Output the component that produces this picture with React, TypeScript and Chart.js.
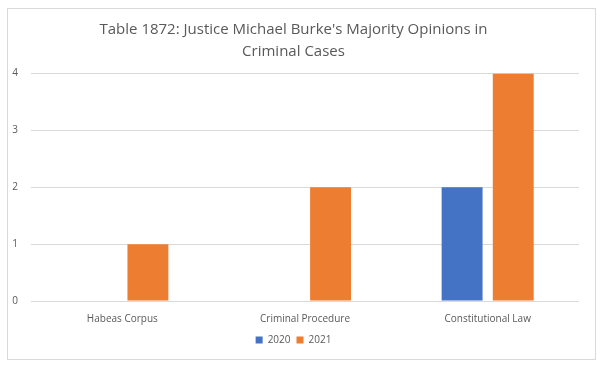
import React, { useEffect, useRef } from "react";
import { Chart, registerables } from "chart.js";

Chart.register(...registerables);

const categories = ["Habeas Corpus", "Criminal Procedure", "Constitutional Law"];
const series2020 = [0, 0, 2];
const series2021 = [1, 2, 4];
const titleLines = ["Table 1872: Justice Michael Burke's Majority Opinions in", "Criminal Cases"];

export default function App() {
  const ref = useRef<HTMLCanvasElement>(null);
  useEffect(() => {
    if (!ref.current) return;
    const chart = new Chart(ref.current, {
      type: "bar",
      data: {
        labels: categories,
        datasets: [
          { label: "2020", data: series2020, backgroundColor: "#4472C4", categoryPercentage: 0.56, barPercentage: 0.8 },
          { label: "2021", data: series2021, backgroundColor: "#ED7D31", categoryPercentage: 0.56, barPercentage: 0.8 },
        ],
      },
      options: {
        animation: false,
        responsive: false,
        layout: { padding: { left: 0, right: 16, top: 4, bottom: 4 } },
        plugins: {
          title: {
            display: true,
            text: titleLines,
            color: "#595959",
            font: { family: "Open Sans", size: 15, weight: "normal", lineHeight: 1.45 },
            padding: { top: 6, bottom: 11 },
          },
          legend: {
            position: "bottom",
            labels: {
              boxWidth: 7,
              boxHeight: 7,
              color: "#595959",
              font: { family: "Open Sans", size: 10 },
              padding: 6,
            },
          },
          tooltip: { enabled: false },
        },
        scales: {
          x: {
            grid: { display: false },
            border: { display: false },
            ticks: { color: "#595959", font: { family: "Open Sans", size: 10 }, padding: 4 },
          },
          y: {
            min: 0,
            max: 4,
            afterFit: (s: any) => {
              s.width = 23;
            },
            ticks: { stepSize: 1, color: "#595959", font: { family: "Open Sans", size: 10 }, padding: 13 },
            grid: { color: "#d9d9d9", drawTicks: false },
            border: { display: false },
          },
        },
      },
    });
    return () => chart.destroy();
  }, []);
  return (
    <div
      style={{
        position: "absolute",
        left: 7,
        top: 8,
        width: 587,
        height: 350,
        border: "1px solid #d9d9d9",
        background: "#fff",
      }}
    >
      <canvas ref={ref} width={587} height={350} />
    </div>
  );
}
